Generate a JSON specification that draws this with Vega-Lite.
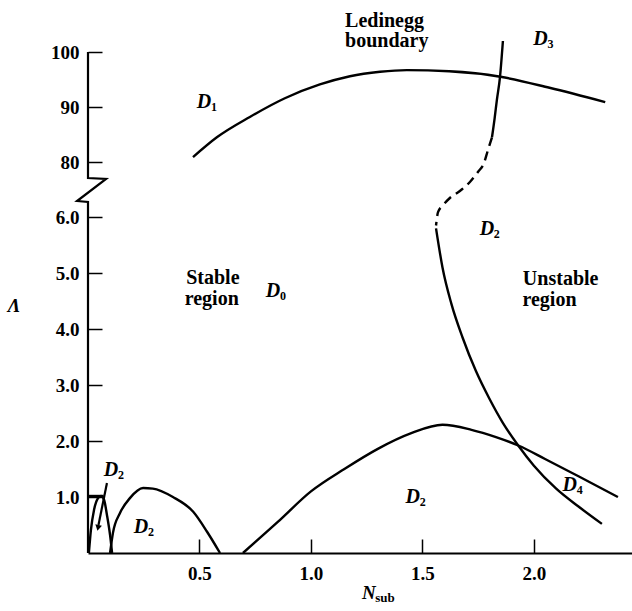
{
  "$schema": "https://vega.github.io/schema/vega-lite/v6.json",
  "width": 544,
  "height": 501,
  "autosize": {"type": "none"},
  "padding": {"left": 88, "top": 52, "right": 0, "bottom": 58},
  "background": "white",
  "config": {"view": {"stroke": null}, "font": "Liberation Serif"},
  "datasets": {
    "curves": [
      {"s": "L", "i": 1, "dash": 0, "x": 0.471, "y": 80.9},
      {"s": "L", "i": 2, "dash": 0, "x": 0.578, "y": 84.5},
      {"s": "L", "i": 3, "dash": 0, "x": 0.726, "y": 88.2},
      {"s": "L", "i": 4, "dash": 0, "x": 0.883, "y": 91.6},
      {"s": "L", "i": 5, "dash": 0, "x": 1.04, "y": 94.1},
      {"s": "L", "i": 6, "dash": 0, "x": 1.175, "y": 95.6},
      {"s": "L", "i": 7, "dash": 0, "x": 1.31, "y": 96.4},
      {"s": "L", "i": 8, "dash": 0, "x": 1.43, "y": 96.7},
      {"s": "L", "i": 9, "dash": 0, "x": 1.62, "y": 96.5},
      {"s": "L", "i": 10, "dash": 0, "x": 1.85, "y": 95.5},
      {"s": "L", "i": 11, "dash": 0, "x": 2.07, "y": 93.5},
      {"s": "L", "i": 12, "dash": 0, "x": 2.32, "y": 90.9},
      {"s": "U", "i": 1, "dash": 0, "x": 1.861, "y": 102.0},
      {"s": "U", "i": 2, "dash": 0, "x": 1.848, "y": 95.5},
      {"s": "U", "i": 3, "dash": 0, "x": 1.834, "y": 91.3},
      {"s": "U", "i": 4, "dash": 0, "x": 1.824, "y": 88.0},
      {"s": "U", "i": 5, "dash": 0, "x": 1.812, "y": 84.5},
      {"s": "V", "i": 1, "dash": 1, "x": 1.812, "y": 84.5},
      {"s": "V", "i": 2, "dash": 1, "x": 1.794, "y": 82.2},
      {"s": "V", "i": 3, "dash": 1, "x": 1.776, "y": 79.8},
      {"s": "V", "i": 4, "dash": 1, "x": 1.749, "y": 78.2},
      {"s": "V", "i": 5, "dash": 1, "x": 1.713, "y": 65.3},
      {"s": "V", "i": 6, "dash": 1, "x": 1.668, "y": 38.7},
      {"s": "V", "i": 7, "dash": 1, "x": 1.623, "y": 18.1},
      {"s": "V", "i": 8, "dash": 1, "x": 1.592, "y": 6.21},
      {"s": "V", "i": 9, "dash": 1, "x": 1.57, "y": 6.09},
      {"s": "V", "i": 10, "dash": 1, "x": 1.561, "y": 5.85},
      {"s": "R", "i": 1, "dash": 0, "x": 1.561, "y": 5.8},
      {"s": "R", "i": 2, "dash": 0, "x": 1.59, "y": 5.1},
      {"s": "R", "i": 3, "dash": 0, "x": 1.63, "y": 4.45},
      {"s": "R", "i": 4, "dash": 0, "x": 1.68, "y": 3.85},
      {"s": "R", "i": 5, "dash": 0, "x": 1.74, "y": 3.25},
      {"s": "R", "i": 6, "dash": 0, "x": 1.8, "y": 2.76},
      {"s": "R", "i": 7, "dash": 0, "x": 1.86, "y": 2.33},
      {"s": "R", "i": 8, "dash": 0, "x": 1.928, "y": 1.93},
      {"s": "R", "i": 9, "dash": 0, "x": 2.0, "y": 1.56},
      {"s": "R", "i": 10, "dash": 0, "x": 2.1, "y": 1.15},
      {"s": "R", "i": 11, "dash": 0, "x": 2.2, "y": 0.83},
      {"s": "R", "i": 12, "dash": 0, "x": 2.305, "y": 0.52},
      {"s": "H", "i": 1, "dash": 0, "x": 0.695, "y": 0.0},
      {"s": "H", "i": 2, "dash": 0, "x": 0.85, "y": 0.55},
      {"s": "H", "i": 3, "dash": 0, "x": 1.0, "y": 1.1},
      {"s": "H", "i": 4, "dash": 0, "x": 1.15, "y": 1.5},
      {"s": "H", "i": 5, "dash": 0, "x": 1.3, "y": 1.86},
      {"s": "H", "i": 6, "dash": 0, "x": 1.45, "y": 2.14},
      {"s": "H", "i": 7, "dash": 0, "x": 1.59, "y": 2.29},
      {"s": "H", "i": 8, "dash": 0, "x": 1.72, "y": 2.2},
      {"s": "H", "i": 9, "dash": 0, "x": 1.83, "y": 2.07},
      {"s": "H", "i": 10, "dash": 0, "x": 1.93, "y": 1.92},
      {"s": "H", "i": 11, "dash": 0, "x": 2.05, "y": 1.68},
      {"s": "H", "i": 12, "dash": 0, "x": 2.2, "y": 1.37},
      {"s": "H", "i": 13, "dash": 0, "x": 2.377, "y": 1.0},
      {"s": "S", "i": 1, "dash": 0, "x": 0.099, "y": 0.0},
      {"s": "S", "i": 2, "dash": 0, "x": 0.112, "y": 0.36},
      {"s": "S", "i": 3, "dash": 0, "x": 0.143, "y": 0.71},
      {"s": "S", "i": 4, "dash": 0, "x": 0.188, "y": 0.98},
      {"s": "S", "i": 5, "dash": 0, "x": 0.247, "y": 1.16},
      {"s": "S", "i": 6, "dash": 0, "x": 0.291, "y": 1.15},
      {"s": "S", "i": 7, "dash": 0, "x": 0.381, "y": 1.0},
      {"s": "S", "i": 8, "dash": 0, "x": 0.471, "y": 0.74},
      {"s": "S", "i": 9, "dash": 0, "x": 0.534, "y": 0.38},
      {"s": "S", "i": 10, "dash": 0, "x": 0.592, "y": 0.0},
      {"s": "T", "i": 1, "dash": 0, "x": 0.004, "y": 0.0},
      {"s": "T", "i": 2, "dash": 0, "x": 0.013, "y": 0.41},
      {"s": "T", "i": 3, "dash": 0, "x": 0.027, "y": 0.77},
      {"s": "T", "i": 4, "dash": 0, "x": 0.045, "y": 0.98},
      {"s": "T", "i": 5, "dash": 0, "x": 0.058, "y": 1.02},
      {"s": "T", "i": 6, "dash": 0, "x": 0.072, "y": 0.95},
      {"s": "T", "i": 7, "dash": 0, "x": 0.085, "y": 0.68},
      {"s": "T", "i": 8, "dash": 0, "x": 0.099, "y": 0.32},
      {"s": "T", "i": 9, "dash": 0, "x": 0.108, "y": 0.0}
    ],
    "straight": [
      {"s": "axis", "i": 1, "x": 0.0, "y": 100},
      {"s": "axis", "i": 2, "x": 0.0, "y": 77.1},
      {"s": "axis", "i": 3, "x": 0.081, "y": 74.15},
      {"s": "axis", "i": 4, "x": -0.049, "y": 9.2},
      {"s": "axis", "i": 5, "x": 0.0, "y": 6.27},
      {"s": "axis", "i": 6, "x": 0.0, "y": 0},
      {"s": "top", "i": 1, "x": 0.0, "y": 1.02},
      {"s": "top", "i": 2, "x": 0.07, "y": 1.02},
      {"s": "lead", "i": 1, "x": 0.085, "y": 1.25},
      {"s": "lead", "i": 2, "x": 0.047, "y": 0.5}
    ],
    "arrow": [{"x": 0.045, "y": 0.45}],
    "words": [
      {"t": "Ledinegg", "x": 1.33, "y": 105.6},
      {"t": "boundary", "x": 1.34, "y": 102.0},
      {"t": "Stable", "x": 0.56, "y": 4.92},
      {"t": "region", "x": 0.555, "y": 4.54},
      {"t": "Unstable", "x": 2.12, "y": 4.89},
      {"t": "region", "x": 2.07, "y": 4.52}
    ],
    "dlabels": [
      {"n": "1", "x": 0.52, "y": 90.9},
      {"n": "3", "x": 2.03, "y": 102.3},
      {"n": "2", "x": 1.789, "y": 5.79},
      {"n": "0", "x": 0.83, "y": 4.68},
      {"n": "2", "x": 1.457, "y": 1.0},
      {"n": "4", "x": 2.161, "y": 1.21},
      {"n": "2", "x": 0.238, "y": 0.46},
      {"n": "2", "x": 0.103, "y": 1.48}
    ],
    "titles": [
      {"t": "Λ", "k": "lam", "x": -0.332, "y": 4.41},
      {"t": "N", "k": "N", "x": 1.26, "y": -0.714},
      {"t": "sub", "k": "sub", "x": 1.332, "y": -0.795}
    ]
  },
  "encoding": {
    "x": {
      "field": "x", "type": "quantitative",
      "scale": {"domain": [0, 2.44], "nice": false, "zero": false},
      "axis": {
        "title": null, "values": [0.5, 1, 1.5, 2], "format": ".1f",
        "grid": false, "tickSize": -14, "labelPadding": 25,
        "domainColor": "black", "domainWidth": 2, "tickColor": "black", "tickWidth": 1.5,
        "labelFont": "Liberation Serif", "labelFontSize": 19, "labelFontWeight": "bold", "labelColor": "black"
      }
    },
    "y": {
      "field": "y", "type": "quantitative",
      "scale": {"domain": [0, 6.27, 77.1, 100], "range": [501, 150, 126, 0], "nice": false, "zero": false},
      "axis": {
        "title": null, "values": [1, 2, 3, 4, 5, 6, 80, 90, 100],
        "labelExpr": "datum.value >= 10 ? format(datum.value, 'd') : format(datum.value, '.1f')",
        "grid": false, "domain": false, "tickSize": -14, "labelPadding": 23,
        "tickColor": "black", "tickWidth": 1.5,
        "labelFont": "Liberation Serif", "labelFontSize": 19, "labelFontWeight": "bold", "labelColor": "black"
      }
    }
  },
  "layer": [
    {
      "data": {"name": "curves"},
      "transform": [{"filter": "datum.dash == 0"}],
      "mark": {"type": "line", "color": "black", "strokeWidth": 2.4, "interpolate": "monotone"},
      "encoding": {"detail": {"field": "s"}, "order": {"field": "i", "type": "quantitative"}}
    },
    {
      "data": {"name": "curves"},
      "transform": [{"filter": "datum.dash == 1"}],
      "mark": {"type": "line", "color": "black", "strokeWidth": 2.4, "interpolate": "monotone", "strokeDash": [9, 6]},
      "encoding": {"detail": {"field": "s"}, "order": {"field": "i", "type": "quantitative"}}
    },
    {
      "data": {"name": "straight"},
      "mark": {"type": "line", "color": "black", "strokeWidth": 2.2},
      "encoding": {"detail": {"field": "s"}, "order": {"field": "i", "type": "quantitative"}}
    },
    {
      "data": {"name": "arrow"},
      "mark": {"type": "point", "shape": "triangle-down", "filled": true, "color": "black", "size": 45, "angle": 12, "opacity": 1}
    },
    {
      "data": {"name": "words"},
      "mark": {"type": "text", "font": "Liberation Serif", "fontSize": 20, "fontWeight": "bold", "color": "black", "baseline": "middle", "align": "center"},
      "encoding": {"text": {"field": "t"}}
    },
    {
      "data": {"name": "dlabels"},
      "mark": {"type": "text", "font": "Liberation Serif", "fontSize": 20, "fontStyle": "italic", "fontWeight": "bold", "color": "black", "baseline": "middle", "align": "center"},
      "encoding": {"text": {"value": "D"}}
    },
    {
      "data": {"name": "dlabels"},
      "mark": {"type": "text", "font": "Liberation Serif", "fontSize": 12, "fontWeight": "bold", "color": "black", "baseline": "middle", "align": "center", "dx": 10, "dy": 5},
      "encoding": {"text": {"field": "n"}}
    },
    {
      "data": {"name": "titles"},
      "transform": [{"filter": "datum.k == 'lam'"}],
      "mark": {"type": "text", "font": "Liberation Serif", "fontSize": 19, "fontStyle": "italic", "fontWeight": "bold", "color": "black", "baseline": "middle", "align": "center"},
      "encoding": {"text": {"field": "t"}}
    },
    {
      "data": {"name": "titles"},
      "transform": [{"filter": "datum.k == 'N'"}],
      "mark": {"type": "text", "font": "Liberation Serif", "fontSize": 19, "fontStyle": "italic", "fontWeight": "bold", "color": "black", "baseline": "middle", "align": "center"},
      "encoding": {"text": {"field": "t"}}
    },
    {
      "data": {"name": "titles"},
      "transform": [{"filter": "datum.k == 'sub'"}],
      "mark": {"type": "text", "font": "Liberation Serif", "fontSize": 13, "fontWeight": "bold", "color": "black", "baseline": "middle", "align": "center"},
      "encoding": {"text": {"field": "t"}}
    }
  ]
}
